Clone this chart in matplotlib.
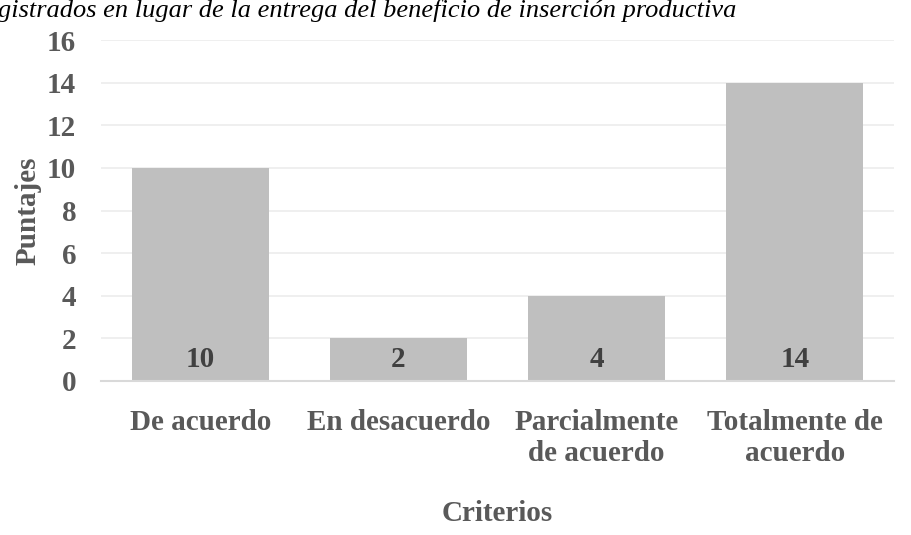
import matplotlib
matplotlib.use('Agg')
from matplotlib import pyplot as plt

categorias = ['De acuerdo', 'En desacuerdo', 'Parcialmente\nde acuerdo', 'Totalmente de\nacuerdo']
puntajes = [10, 2, 4, 14]
yticks = [0, 2, 4, 6, 8, 10, 12, 14, 16]
titulo = 'gistrados en lugar de la entrega del beneficio de inserción productiva'

plt.rcParams['font.family'] = ['Liberation Serif', 'DejaVu Serif']
gris = '#595959'

fig = plt.figure(figsize=(9.12, 5.35), dpi=100)
ax = fig.add_axes([0.111, 0.288, 0.869, 0.637])

x = list(range(len(categorias)))
ax.bar(x, puntajes, width=0.69, color='#bfbfbf', zorder=2)
for xi, v in zip(x, puntajes):
    ax.text(xi, 1.0, str(v), ha='center', va='center', fontsize=21,
            fontweight='bold', color='#404040', zorder=3)

ax.set_xlim(-0.5, 3.5)
ax.set_ylim(0, 16)
ax.set_yticks(yticks)
ax.set_yticklabels([str(t) for t in yticks], fontsize=21, fontweight='bold', color=gris)
ax.set_xticks(x)
ax.set_xticklabels(categorias, fontsize=21, fontweight='bold', color=gris, linespacing=1.2)
ax.tick_params(axis='both', length=0)
ax.tick_params(axis='y', pad=18)
ax.tick_params(axis='x', pad=20)
ax.grid(axis='y', color='#ececec', linewidth=1.2, zorder=0)
for s in ['top', 'right', 'left']:
    ax.spines[s].set_visible(False)
ax.spines['bottom'].set_color('#d9d9d9')
ax.spines['bottom'].set_linewidth(1.5)

ax.set_ylabel('Puntajes', fontsize=21, fontweight='bold', color=gris, labelpad=4)
ax.set_xlabel('Criterios', fontsize=21, fontweight='bold', color=gris, labelpad=24)

fig.text(-0.002, 1 - 17 / 535, titulo, ha='left', va='baseline', fontsize=19,
         style='italic', color='black')

plt.savefig('out.png', dpi=100)
